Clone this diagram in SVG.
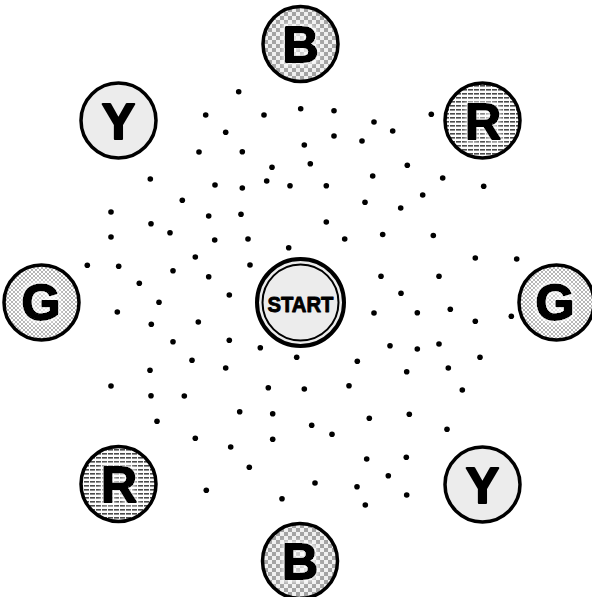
<svg xmlns="http://www.w3.org/2000/svg" width="592" height="597" viewBox="0 0 592 597">
<style>
.ring{stroke:#000;stroke-width:3.5}
.lbl{font-family:"Liberation Sans",Arial,sans-serif;font-weight:bold;font-size:50px;text-anchor:middle;fill:#000;stroke:#000;stroke-width:2;stroke-linejoin:round}
.dot{fill:#000}
</style>
<defs>
<pattern id="check" width="8" height="8" patternUnits="userSpaceOnUse">
<rect width="8" height="8" fill="#f0f0f0"/>
<rect width="4" height="4" fill="#a4a4a4"/>
<rect x="4" y="4" width="4" height="4" fill="#a4a4a4"/>
</pattern>
<pattern id="stripe" width="6" height="4" patternUnits="userSpaceOnUse">
<rect width="6" height="4" fill="#fcfcfc"/>
<rect y="1" width="5" height="1.6" fill="#4a4a4a"/>
</pattern>
<pattern id="mesh" width="4" height="4" patternUnits="userSpaceOnUse">
<rect width="4" height="4" fill="#999"/>
<circle cx="0" cy="0" r="1.35" fill="#fff"/>
<circle cx="4" cy="0" r="1.35" fill="#fff"/>
<circle cx="0" cy="4" r="1.35" fill="#fff"/>
<circle cx="4" cy="4" r="1.35" fill="#fff"/>
<circle cx="2" cy="2" r="1.35" fill="#fff"/>
</pattern>
<filter id="glow" x="-30%" y="-30%" width="160%" height="160%">
<feMorphology in="SourceAlpha" operator="dilate" radius="2" result="d"/>
<feGaussianBlur in="d" stdDeviation="2" result="b"/>
<feFlood flood-color="#fff" flood-opacity="0.8"/>
<feComposite in2="b" operator="in" result="g"/>
<feMerge><feMergeNode in="g"/><feMergeNode in="SourceGraphic"/></feMerge>
</filter>
</defs>
<g id="connectors">
<g class="dot">
<circle cx="238.7" cy="91.7" r="2.8"/><circle cx="205.7" cy="115" r="2.8"/><circle cx="264" cy="115" r="2.8"/><circle cx="300.7" cy="108.7" r="2.8"/><circle cx="334" cy="110.7" r="2.8"/><circle cx="431.3" cy="114.3" r="2.8"/><circle cx="374" cy="122" r="2.8"/><circle cx="392.7" cy="131" r="2.8"/><circle cx="225.7" cy="132.3" r="2.8"/><circle cx="334" cy="136" r="2.8"/><circle cx="362" cy="141" r="2.8"/><circle cx="304.3" cy="145" r="2.8"/><circle cx="199" cy="152" r="2.8"/><circle cx="242.3" cy="151.7" r="2.8"/><circle cx="272" cy="167.3" r="2.8"/><circle cx="310.3" cy="163.7" r="2.8"/><circle cx="407.3" cy="165.3" r="2.8"/><circle cx="150.3" cy="179" r="2.8"/><circle cx="372.7" cy="176" r="2.8"/><circle cx="442.7" cy="178" r="2.8"/><circle cx="483.7" cy="186.3" r="2.8"/><circle cx="215" cy="185" r="2.8"/><circle cx="242.3" cy="188" r="2.8"/><circle cx="266.7" cy="181" r="2.8"/><circle cx="290" cy="185.7" r="2.8"/><circle cx="326.3" cy="185.7" r="2.8"/><circle cx="182.3" cy="200.3" r="2.8"/><circle cx="365" cy="202.3" r="2.8"/><circle cx="422.7" cy="195" r="2.8"/><circle cx="400.7" cy="208" r="2.8"/><circle cx="111" cy="212" r="2.8"/><circle cx="151" cy="223.7" r="2.8"/><circle cx="170" cy="232.7" r="2.8"/><circle cx="208.7" cy="216" r="2.8"/><circle cx="241" cy="214.3" r="2.8"/><circle cx="326.3" cy="222" r="2.8"/><circle cx="111" cy="237" r="2.8"/><circle cx="214.7" cy="240" r="2.8"/><circle cx="248" cy="239" r="2.8"/><circle cx="344.7" cy="239" r="2.8"/><circle cx="382.7" cy="234.5" r="2.8"/><circle cx="433.3" cy="235.5" r="2.8"/>
<circle cx="288.7" cy="247.7" r="2.8"/><circle cx="195.3" cy="257" r="2.8"/><circle cx="87.3" cy="265.3" r="2.8"/><circle cx="118.7" cy="266.3" r="2.8"/><circle cx="173" cy="270.7" r="2.8"/><circle cx="250" cy="265" r="2.8"/><circle cx="208.7" cy="276.7" r="2.8"/><circle cx="475.3" cy="258" r="2.8"/><circle cx="516.7" cy="259" r="2.8"/><circle cx="381" cy="276.3" r="2.8"/><circle cx="439" cy="276.3" r="2.8"/><circle cx="139.3" cy="283.3" r="2.8"/><circle cx="229.3" cy="295" r="2.8"/><circle cx="401" cy="293.3" r="2.8"/><circle cx="159" cy="302.3" r="2.8"/><circle cx="117.3" cy="312" r="2.8"/><circle cx="198.3" cy="322" r="2.8"/><circle cx="151.3" cy="324.3" r="2.8"/><circle cx="374" cy="313" r="2.8"/><circle cx="417.3" cy="312.7" r="2.8"/><circle cx="450.3" cy="309.3" r="2.8"/><circle cx="475.3" cy="321.3" r="2.8"/><circle cx="511.3" cy="316.3" r="2.8"/><circle cx="173" cy="341.7" r="2.8"/><circle cx="229.3" cy="340.3" r="2.8"/><circle cx="260.3" cy="347.7" r="2.8"/><circle cx="296.7" cy="357.3" r="2.8"/><circle cx="390" cy="345.7" r="2.8"/><circle cx="417.3" cy="349" r="2.8"/><circle cx="439" cy="344" r="2.8"/><circle cx="480" cy="357.3" r="2.8"/><circle cx="192" cy="360.3" r="2.8"/><circle cx="150" cy="370.3" r="2.8"/><circle cx="225.7" cy="368" r="2.8"/><circle cx="357.3" cy="361.3" r="2.8"/><circle cx="406.7" cy="371.7" r="2.8"/><circle cx="448.3" cy="368" r="2.8"/>
<circle cx="111" cy="386" r="2.8"/><circle cx="151" cy="395.7" r="2.8"/><circle cx="184.3" cy="396" r="2.8"/><circle cx="268.3" cy="387.7" r="2.8"/><circle cx="304.3" cy="389" r="2.8"/><circle cx="349" cy="385.7" r="2.8"/><circle cx="462.3" cy="390" r="2.8"/><circle cx="239.7" cy="411.7" r="2.8"/><circle cx="272.7" cy="413.7" r="2.8"/><circle cx="369.3" cy="418.3" r="2.8"/><circle cx="409.3" cy="414.3" r="2.8"/><circle cx="157" cy="421.3" r="2.8"/><circle cx="311.7" cy="425.3" r="2.8"/><circle cx="332" cy="434.3" r="2.8"/><circle cx="447" cy="429.3" r="2.8"/><circle cx="195.3" cy="438.3" r="2.8"/><circle cx="230.7" cy="447" r="2.8"/><circle cx="272.7" cy="439.3" r="2.8"/><circle cx="366.7" cy="459" r="2.8"/><circle cx="406.3" cy="457.3" r="2.8"/><circle cx="249.3" cy="467.3" r="2.8"/><circle cx="388.3" cy="475.7" r="2.8"/><circle cx="206.3" cy="490.3" r="2.8"/><circle cx="315" cy="483" r="2.8"/><circle cx="357" cy="486.7" r="2.8"/><circle cx="406.7" cy="495" r="2.8"/><circle cx="282" cy="498.7" r="2.8"/><circle cx="365.3" cy="505" r="2.8"/>
</g>
</g>
<g id="start">
<circle cx="300.5" cy="302.5" r="43.5" fill="#ececec" stroke="#000" stroke-width="4"/>
<circle cx="300.5" cy="302.5" r="38" fill="none" stroke="#000" stroke-width="2"/>
<text x="300.5" y="311.5" font-family="'Liberation Sans',Arial,sans-serif" font-weight="bold" font-size="22" text-anchor="middle" stroke="#000" stroke-width="0.9" stroke-linejoin="round" textLength="66" lengthAdjust="spacingAndGlyphs">START</text>
</g>
<g id="b-top">
<circle class="ring" cx="300.5" cy="44" r="37.5" fill="url(#check)"/>
<text class="lbl" x="300.5" y="62" filter="url(#glow)">B</text>
</g>
<g id="r-top-right">
<circle class="ring" cx="482.5" cy="120.5" r="37.5" fill="url(#stripe)"/>
<text class="lbl" x="483" y="138.5" filter="url(#glow)">R</text>
</g>
<g id="g-right">
<circle class="ring" cx="556.5" cy="302.5" r="37.5" fill="url(#mesh)"/>
<text class="lbl" x="555" y="320" filter="url(#glow)">G</text>
</g>
<g id="y-bottom-right">
<circle class="ring" cx="482.5" cy="484.5" r="37.5" fill="#ececec"/>
<text class="lbl" x="482.5" y="502.5">Y</text>
</g>
<g id="b-bottom">
<circle class="ring" cx="300" cy="561" r="37.5" fill="url(#check)"/>
<text class="lbl" x="300" y="579" filter="url(#glow)">B</text>
</g>
<g id="r-bottom-left">
<circle class="ring" cx="118.5" cy="484" r="37.5" fill="url(#stripe)"/>
<text class="lbl" x="119" y="502" filter="url(#glow)">R</text>
</g>
<g id="g-left">
<circle class="ring" cx="41.5" cy="302.5" r="37.5" fill="url(#mesh)"/>
<text class="lbl" x="41" y="320" filter="url(#glow)">G</text>
</g>
<g id="y-top-left">
<circle class="ring" cx="118.5" cy="120.5" r="37.5" fill="#ececec"/>
<text class="lbl" x="118.5" y="139">Y</text>
</g>
</svg>
